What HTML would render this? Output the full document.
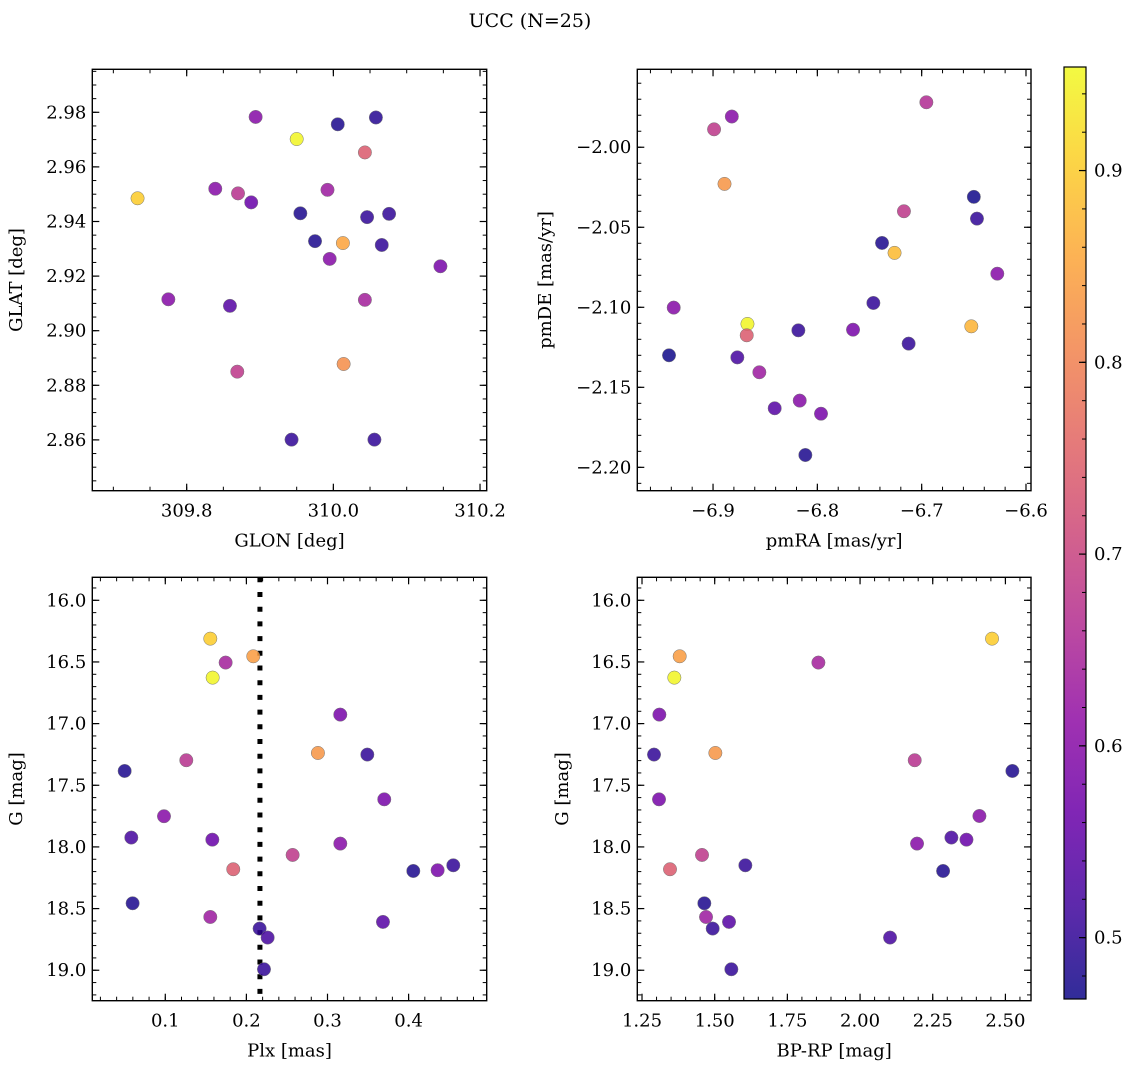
<!DOCTYPE html>
<html><head><meta charset="utf-8">
<style>
html,body{margin:0;padding:0;background:#fff;}
svg{display:block;font-family:"DejaVu Serif","Liberation Serif",serif;}
</style></head>
<body>
<svg id="fig" width="1136" height="1067" viewBox="0 0 1136 1067">
<text x="530" y="27" text-anchor="middle" font-size="19">UCC (N=25)</text>
</svg>
<script>
// ---- data (per panel) ----
const p1X=[309.894,309.950,310.006,310.058,310.043,309.733,309.839,309.870,309.888,309.992,309.955,310.046,310.076,309.975,310.013,310.066,309.995,310.146,309.775,309.859,310.043,309.869,310.014,309.943,310.056];
const p1Y=[2.9783,2.9702,2.9756,2.9781,2.9653,2.9485,2.9520,2.9503,2.9470,2.9516,2.9430,2.9416,2.9428,2.9328,2.9321,2.9314,2.9263,2.9236,2.9115,2.9091,2.9113,2.8850,2.8878,2.8601,2.8601];
const p1C=[0.60,0.95,0.48,0.49,0.74,0.90,0.60,0.67,0.56,0.63,0.48,0.50,0.50,0.48,0.85,0.50,0.60,0.58,0.60,0.54,0.64,0.68,0.82,0.50,0.50];

const p2X=[-6.6955,-6.899,-6.882,-6.889,-6.717,-6.650,-6.647,-6.738,-6.726,-6.6275,-6.7463,-6.9377,-6.867,-6.6524,-6.8182,-6.7658,-6.8677,-6.7125,-6.9422,-6.8767,-6.8556,-6.8409,-6.8169,-6.7965,-6.8115];
const p2Y=[-1.9719,-1.9888,-1.9808,-2.0229,-2.040,-2.031,-2.0446,-2.0598,-2.066,-2.079,-2.0973,-2.1002,-2.1104,-2.1119,-2.1144,-2.1140,-2.1175,-2.1227,-2.130,-2.1313,-2.1406,-2.1631,-2.1583,-2.1665,-2.1923];
const p2C=[0.66,0.68,0.60,0.83,0.68,0.47,0.50,0.48,0.88,0.60,0.50,0.60,0.95,0.87,0.50,0.58,0.74,0.50,0.47,0.52,0.63,0.54,0.60,0.58,0.48];

const p3X=[0.1555,0.2085,0.1744,0.1584,0.3158,0.2882,0.3491,0.1259,0.0499,0.370,0.0984,0.0581,0.158,0.3158,0.257,0.1838,0.4058,0.4358,0.4551,0.0597,0.1555,0.3684,0.2163,0.2262,0.2217];
const p3Y=[16.311,16.454,16.505,16.627,16.927,17.238,17.251,17.297,17.384,17.614,17.751,17.924,17.941,17.973,18.065,18.181,18.195,18.189,18.149,18.457,18.568,18.608,18.662,18.735,18.992];
const p3C=[0.90,0.84,0.64,0.95,0.58,0.83,0.50,0.67,0.48,0.58,0.60,0.52,0.56,0.60,0.68,0.74,0.48,0.58,0.50,0.48,0.63,0.54,0.50,0.52,0.50];
const plxLine=[0.2167];

const p4X=[2.454,1.3796,1.8567,1.3612,1.3096,1.5023,1.2913,2.188,2.524,1.3085,2.4106,2.3142,2.366,2.196,1.4564,1.3463,2.2856,1.6055,1.4644,1.4702,1.5493,1.4931,2.1032,1.5573];
const p4Y=[16.311,16.454,16.505,16.627,16.927,17.238,17.251,17.297,17.384,17.614,17.749,17.924,17.941,17.973,18.065,18.181,18.195,18.149,18.457,18.568,18.608,18.662,18.735,18.992];
const p4C=[0.90,0.84,0.64,0.95,0.58,0.83,0.50,0.67,0.48,0.58,0.60,0.52,0.56,0.60,0.68,0.74,0.48,0.50,0.48,0.63,0.54,0.50,0.52,0.50];

const p1XTicks=[309.8,310.0,310.2];
const p1YTicks=[2.86,2.88,2.90,2.92,2.94,2.96,2.98];
const p2XTicks=[-6.9,-6.8,-6.7,-6.6];
const p2YTicks=[-2.20,-2.15,-2.10,-2.05,-2.00];
const p3XTicks=[0.1,0.2,0.3,0.4];
const gTicks=[16.0,16.5,17.0,17.5,18.0,18.5,19.0];
const p4XTicks=[1.25,1.50,1.75,2.00,2.25,2.50];
const cbTicks=[0.5,0.6,0.7,0.8,0.9];
const cMin=0.468, cMax=0.954;

const NS="http://www.w3.org/2000/svg";
const svg=document.getElementById('fig');
const FS=18;
const plasma=[[13,8,135],[65,4,157],[106,0,168],[143,13,164],[177,42,144],[204,71,120],[225,100,98],[242,132,75],[252,166,54],[252,206,37],[240,249,33]];
function cmap(v){let t=(v-cMin)/(cMax-cMin);t=Math.max(0,Math.min(1,t))*10;const i=Math.min(9,Math.floor(t)),f=t-i;const a=plasma[i],b=plasma[i+1];return 'rgb('+a.map((c,k)=>Math.round(c+(b[k]-c)*f)).join(',')+')';}
function mk(tag,attrs,parent){const e=document.createElementNS(NS,tag);for(const k in attrs)e.setAttribute(k,attrs[k]);(parent||svg).appendChild(e);return e;}

function panel(o){
  const g=mk('g',{});
  
  
  const sx=v=>o.x0+(v-o.xmin)/(o.xmax-o.xmin)*(o.x1-o.x0);
  const sy=o.yinv?(v=>o.y0+(v-o.ymin)/(o.ymax-o.ymin)*(o.y1-o.y0)):(v=>o.y1-(v-o.ymin)/(o.ymax-o.ymin)*(o.y1-o.y0));
  const eps=1e-9;
  for(let v=Math.ceil(o.xmin/o.xminor-eps)*o.xminor;v<=o.xmax+eps;v+=o.xminor){const X=sx(v);
    mk('line',{x1:X,x2:X,y1:o.y1,y2:o.y1-4,stroke:'#000','stroke-width':1},g);
    mk('line',{x1:X,x2:X,y1:o.y0,y2:o.y0+4,stroke:'#000','stroke-width':1},g);}
  const ylo=Math.min(o.ymin,o.ymax),yhi=Math.max(o.ymin,o.ymax);
  for(let v=Math.ceil(ylo/o.yminor-eps)*o.yminor;v<=yhi+eps;v+=o.yminor){const Y=sy(v);
    mk('line',{x1:o.x0,x2:o.x0+4,y1:Y,y2:Y,stroke:'#000','stroke-width':1},g);
    mk('line',{x1:o.x1,x2:o.x1-4,y1:Y,y2:Y,stroke:'#000','stroke-width':1},g);}
  o.xt.forEach(v=>{const X=sx(v);
    mk('line',{x1:X,x2:X,y1:o.y1,y2:o.y1-7,stroke:'#000','stroke-width':1.2},g);
    mk('line',{x1:X,x2:X,y1:o.y0,y2:o.y0+7,stroke:'#000','stroke-width':1.2},g);
    const t=mk('text',{x:X,y:o.y1+26,'text-anchor':'middle','font-size':FS},g);
    
    
    t.textContent=o.xf(v);});
  o.yt.forEach(v=>{const Y=sy(v);
    mk('line',{x1:o.x0,x2:o.x0+7,y1:Y,y2:Y,stroke:'#000','stroke-width':1.2},g);
    mk('line',{x1:o.x1,x2:o.x1-7,y1:Y,y2:Y,stroke:'#000','stroke-width':1.2},g);
    const t=mk('text',{x:o.x0-6,y:Y+6,'text-anchor':'end','font-size':FS},g);
    
    
    t.textContent=o.yf(v);});
  if(o.vline){o.vline.forEach(v=>{const X=sx(v);
    const l=mk('line',{x1:X,x2:X,y1:o.y0,y2:o.y1,stroke:'#000','stroke-width':5,'stroke-dasharray':'5 9.7'},g);
    
    });}
  o.X.forEach((v,i)=>{
    const c=mk('circle',{cx:sx(v),cy:sy(o.Y[i]),r:6.7,fill:cmap(o.C[i]),'fill-opacity':0.85,stroke:'#777','stroke-width':0.5},g);
    
    });
  const fr=mk('rect',{x:o.x0,y:o.y0,width:o.x1-o.x0,height:o.y1-o.y0,fill:'none',stroke:'#000','stroke-width':1.4},g);
  
  
  const xl=mk('text',{x:(o.x0+o.x1)/2,y:o.y1+56,'text-anchor':'middle','font-size':FS},g);
  
  
  xl.textContent=o.xlab;
  const cy=(o.y0+o.y1)/2;
  const yl=mk('text',{x:o.ylx,y:cy,'text-anchor':'middle','font-size':FS,transform:'rotate(-90 '+o.ylx+' '+cy+')'},g);
  
  
  yl.textContent=o.ylab;
}
panel({name:'glon-glat-panel',x0:92.3,x1:486.7,y0:69.3,y1:490.7,xmin:309.6713,xmax:310.2091,ymin:2.84139,ymax:2.99575,
  xminor:0.05,yminor:0.005,xt:p1XTicks,yt:p1YTicks,xf:v=>v.toFixed(1),yf:v=>v.toFixed(2),X:p1X,Y:p1Y,C:p1C,xlab:'GLON [deg]',ylab:'GLAT [deg]',ylx:22});
panel({name:'proper-motion-panel',x0:637.3,x1:1031,y0:69.3,y1:490.7,xmin:-6.9726,xmax:-6.5952,ymin:-2.2146,ymax:-1.9513,
  xminor:0.02,yminor:0.01,xt:p2XTicks,yt:p2YTicks,xf:v=>'\u2212'+Math.abs(v).toFixed(1),yf:v=>'\u2212'+Math.abs(v).toFixed(2),X:p2X,Y:p2Y,C:p2C,xlab:'pmRA [mas/yr]',ylab:'pmDE [mas/yr]',ylx:551});
panel({name:'plx-g-panel',x0:92.3,x1:486.7,y0:577.3,y1:1000.7,xmin:0.01,xmax:0.4963,ymin:15.8135,ymax:19.247,yinv:true,
  xminor:0.02,yminor:0.1,xt:p3XTicks,yt:gTicks,xf:v=>v.toFixed(1),yf:v=>v.toFixed(1),X:p3X,Y:p3Y,C:p3C,vline:plxLine,xlab:'Plx [mas]',ylab:'G [mag]',ylx:22});
panel({name:'cmd-panel',x0:637.3,x1:1031,y0:577.3,y1:1000.7,xmin:1.2338,xmax:2.588,ymin:15.8135,ymax:19.247,yinv:true,
  xminor:0.05,yminor:0.1,xt:p4XTicks,yt:gTicks,xf:v=>v.toFixed(2),yf:v=>v.toFixed(1),X:p4X,Y:p4Y,C:p4C,xlab:'BP-RP [mag]',ylab:'G [mag]',ylx:568});

(function(){
  const x0=1064,x1=1086,y0=67,y1=999;
  const defs=mk('defs',{});
  const lg=mk('linearGradient',{id:'cbg',x1:0,y1:1,x2:0,y2:0},defs);
  for(let k=0;k<=20;k++){const v=cMin+(cMax-cMin)*k/20;mk('stop',{offset:(k/20),'stop-color':cmap(v)},lg);}
  const g=mk('g',{});
  
  
  mk('rect',{x:x0,y:y0,width:x1-x0,height:y1-y0,fill:'url(#cbg)','fill-opacity':0.85},g);
  const sy=v=>y1-(v-cMin)/(cMax-cMin)*(y1-y0);
  for(let v=0.48;v<cMax;v+=0.02){const Y=sy(v);mk('line',{x1:x1,x2:x1-4,y1:Y,y2:Y,stroke:'#000','stroke-width':1},g);}
  cbTicks.forEach(v=>{const Y=sy(v);
    mk('line',{x1:x1,x2:x1-7,y1:Y,y2:Y,stroke:'#000','stroke-width':1.2},g);
    const t=mk('text',{x:x1+8,y:Y+6,'font-size':FS},g);
    
    
    t.textContent=v.toFixed(1);});
  mk('rect',{x:x0,y:y0,width:x1-x0,height:y1-y0,fill:'none',stroke:'#000','stroke-width':1.2},g);
})();
</script>
</body></html>
